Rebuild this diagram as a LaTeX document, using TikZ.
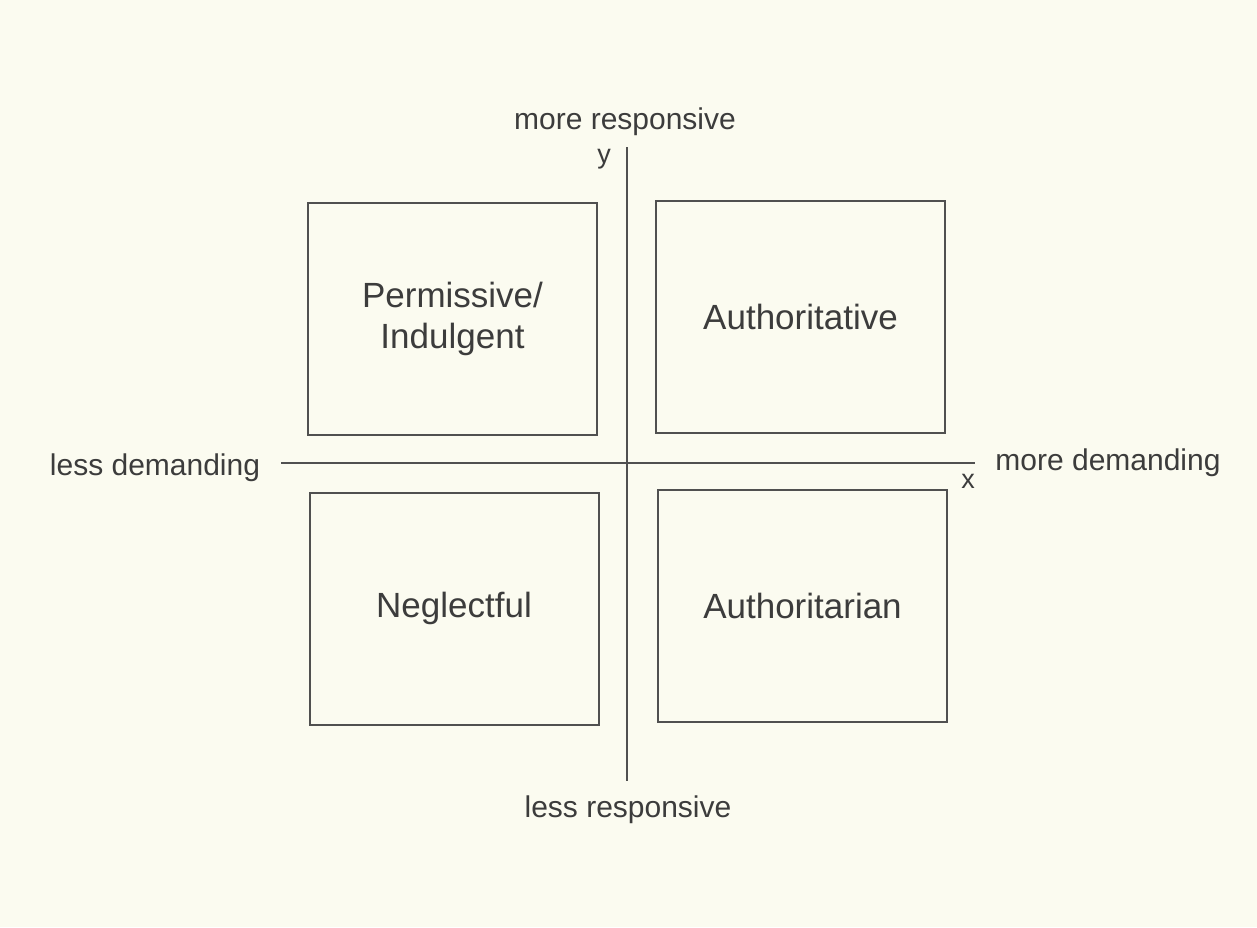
\documentclass[tikz,border=0pt]{standalone}
\usepackage{fontspec}
\setmainfont{Liberation Sans}
\definecolor{paper}{HTML}{FBFBF0}
\definecolor{ink}{HTML}{3C3C3C}
\definecolor{rule}{HTML}{505050}
\begin{document}
\begin{tikzpicture}[x=1pt,y=-1pt,
  quad/.style={draw=rule, line width=2pt, minimum width=289pt, minimum height=232pt,
    align=center, text=ink, font=\fontsize{35}{41}\selectfont, inner sep=0pt},
  lbl/.style={text=ink, font=\fontsize{30}{36}\selectfont, inner sep=0pt},
  axislbl/.style={text=ink, font=\fontsize{27}{32}\selectfont, inner sep=0pt},
  axisline/.style={draw=rule, line width=2.4pt}]
\fill[paper] (0,0) rectangle (1257,927);
\useasboundingbox (0,0) rectangle (1257,927);
% quadrants
\node[quad] (perm) at (452.5,319) {Permissive/\\Indulgent};
\node[quad] (auth) at (800.5,316.5) {Authoritative};
\node[quad] (negl) at (454,608.5) {Neglectful};
\node[quad] (autr) at (802.5,606) {Authoritarian};
% axis labels
\node[lbl] (moreresp) at (625,122) {more responsive};
\node[lbl] (lessresp) at (628,810) {less responsive};
\node[lbl] (lessdem) at (155,468) {less demanding};
\node[lbl] (moredem) at (1108,463) {more demanding};
\node[axislbl] (ylab) at (604,159) {y};
\node[axislbl] (xlab) at (968,481) {x};
% axes
\coordinate (ytop) at (627,147);
\coordinate (ybot) at (627,781);
\coordinate (xleft) at (281,463);
\coordinate (xright) at (975,463);
\draw[axisline] (ytop) -- (ybot);
\draw[axisline] (xleft) -- (xright);
\end{tikzpicture}
\end{document}
